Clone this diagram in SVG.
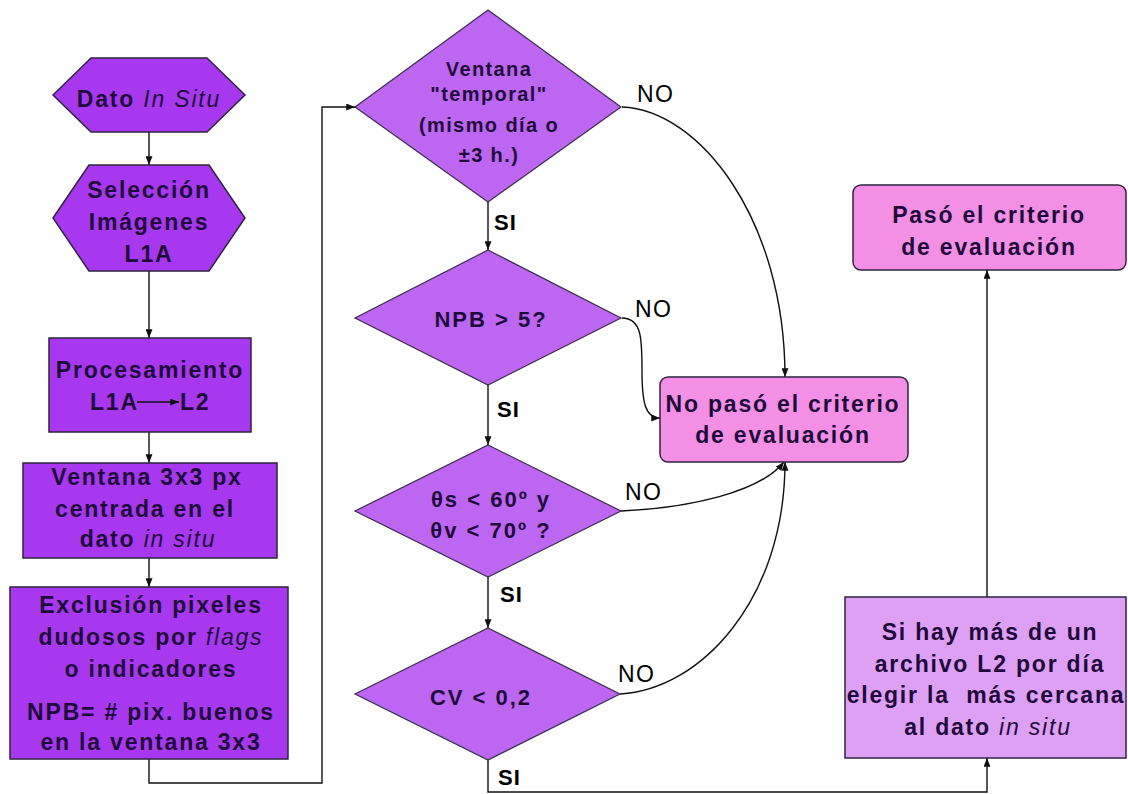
<svg xmlns="http://www.w3.org/2000/svg" width="1128" height="794" viewBox="0 0 1128 794">
<defs>
<marker id="ah" viewBox="0 0 10 8" refX="10" refY="4" markerWidth="9" markerHeight="7" markerUnits="userSpaceOnUse" orient="auto">
<path d="M0,0 L10,4 L0,8 Z" fill="#111"/>
</marker>
</defs>
<style>
.bg{fill:#ffffff}
.n1{fill:#A738F0;stroke:#2e2440;stroke-width:1.5}
.dm{fill:#BD66F2;stroke:#3a2e4a;stroke-width:1.2}
.lv{fill:#DEA0F5;stroke:#2e2440;stroke-width:1.5}
.pk{fill:#F48FE6;stroke:#2e2440;stroke-width:1.5}
.t{font-family:"Liberation Sans",Arial,sans-serif;font-weight:bold;fill:#1E0A3A;text-anchor:middle}
.tl{font-size:23px;letter-spacing:1.8px}
.td1{font-size:20px;letter-spacing:1.4px}
.td{font-size:22px;letter-spacing:2px}
.it{font-style:italic;font-weight:normal}
.no{font-family:"Liberation Sans",Arial,sans-serif;font-size:23px;letter-spacing:1.5px;fill:#000}
.si{font-family:"Liberation Sans",Arial,sans-serif;font-size:22px;font-weight:bold;letter-spacing:1px;fill:#000}
.c{fill:none;stroke:#111;stroke-width:1.4}
</style>
<rect class="bg" x="0" y="0" width="1128" height="794"/>

<g id="connectors">
<path class="c" d="M149,132 L149,165" marker-end="url(#ah)"/>
<path class="c" d="M149,271 L149,338" marker-end="url(#ah)"/>
<path class="c" d="M149,432 L149,463" marker-end="url(#ah)"/>
<path class="c" d="M149,558 L149,587" marker-end="url(#ah)"/>
<path class="c" d="M149,759 L149,783 L322,783 L322,107 L355,107" marker-end="url(#ah)"/>
<path class="c" d="M488,202 L488,250" marker-end="url(#ah)"/>
<path class="c" d="M488,385 L488,445" marker-end="url(#ah)"/>
<path class="c" d="M488,577 L488,628" marker-end="url(#ah)"/>
<path class="c" d="M488,760 L488,792 L987,792 L987,758" marker-end="url(#ah)"/>
<path class="c" d="M987,597 L987,270" marker-end="url(#ah)"/>
<path class="c" d="M622,107 C700,110 785,220 785,377" marker-end="url(#ah)"/>
<path class="c" d="M622,318 C642,318 642,340 642,370 C642,402 645,418 660,418" marker-end="url(#ah)"/>
<path class="c" d="M621,511 C690,508 760,492 784,462" marker-end="url(#ah)"/>
<path class="c" d="M620,694 C700,690 785,600 785,462" marker-end="url(#ah)"/>
<text class="no" x="637" y="102">NO</text>
<text class="no" x="635" y="317">NO</text>
<text class="no" x="625" y="500">NO</text>
<text class="no" x="618" y="682">NO</text>
<text class="si" x="494" y="230">SI</text>
<text class="si" x="497" y="417">SI</text>
<text class="si" x="500" y="602">SI</text>
<text class="si" x="498" y="785">SI</text>
</g>

<g id="dato">
<polygon class="n1" points="53,95 91,58 207,58 245,95 207,132 91,132"/>
<text class="t tl" x="149" y="107">Dato <tspan class="it">In Situ</tspan></text>
</g>

<g id="seleccion">
<polygon class="n1" points="53,218 89,165 209,165 245,218 209,271 89,271"/>
<text class="t tl" x="149" y="198">Selección</text>
<text class="t tl" x="149" y="230">Imágenes</text>
<text class="t tl" x="149" y="262">L1A</text>
</g>

<g id="procesamiento">
<rect class="n1" x="49" y="338" width="202" height="94"/>
<text class="t tl" x="150" y="378">Procesamiento</text>
<text class="t tl" x="90" y="410" style="text-anchor:start">L1A</text>
<line class="c" x1="137" y1="402" x2="179" y2="402" marker-end="url(#ah)"/>
<text class="t tl" x="180" y="410" style="text-anchor:start">L2</text>
</g>

<g id="ventana">
<rect class="n1" x="23" y="463" width="254" height="95"/>
<text class="t tl" x="147" y="485">Ventana 3x3 px</text>
<text class="t tl" x="145" y="517">centrada en el</text>
<text class="t tl" x="148" y="547">dato <tspan class="it">in situ</tspan></text>
</g>

<g id="exclusion">
<rect class="n1" x="10" y="587" width="278" height="172"/>
<text class="t tl" x="151" y="613">Exclusión pixeles</text>
<text class="t tl" x="151" y="645">dudosos por <tspan class="it">flags</tspan></text>
<text class="t tl" x="151" y="677">o indicadores</text>
<text class="t tl" x="151" y="720">NPB= # pix. buenos</text>
<text class="t tl" x="151" y="750">en la ventana 3x3</text>
</g>

<g id="d-temporal">
<polygon class="dm" points="488,10 621,107 488,202 355,107"/>
<text class="t td1" x="489" y="76">Ventana</text>
<text class="t td1" x="489" y="101">"temporal"</text>
<text class="t td1" x="489" y="132">(mismo día o</text>
<text class="t td1" x="489" y="162">±3 h.)</text>
</g>

<g id="d-npb">
<polygon class="dm" points="488,250 621,318 488,385 355,318"/>
<text class="t td" x="491" y="327">NPB &gt; 5?</text>
</g>

<g id="d-theta">
<polygon class="dm" points="488,445 621,511 488,577 355,511"/>
<text class="t td" x="491" y="507">θs &lt; 60º y</text>
<text class="t td" x="491" y="538">θv &lt; 70º ?</text>
</g>

<g id="d-cv">
<polygon class="dm" points="488,628 620,694 488,760 355,694"/>
<text class="t td" x="481" y="705">CV &lt; 0,2</text>
</g>

<g id="no-paso">
<rect class="pk" x="660" y="377" width="248" height="85" rx="8" ry="8"/>
<text class="t tl" x="783" y="412">No pasó el criterio</text>
<text class="t tl" x="783" y="443">de evaluación</text>
</g>

<g id="paso">
<rect class="pk" x="853" y="185" width="273" height="85" rx="8" ry="8"/>
<text class="t tl" x="989" y="223">Pasó el criterio</text>
<text class="t tl" x="989" y="255">de evaluación</text>
</g>

<g id="si-hay">
<rect class="lv" x="845" y="597" width="281" height="161"/>
<text class="t tl" x="990" y="640">Si hay más de un</text>
<text class="t tl" x="990" y="672">archivo L2 por día</text>
<text class="t tl" x="986" y="703" style="white-space:pre">elegir la  más cercana</text>
<text class="t tl" x="988" y="735">al dato <tspan class="it">in situ</tspan></text>
</g>
</svg>
